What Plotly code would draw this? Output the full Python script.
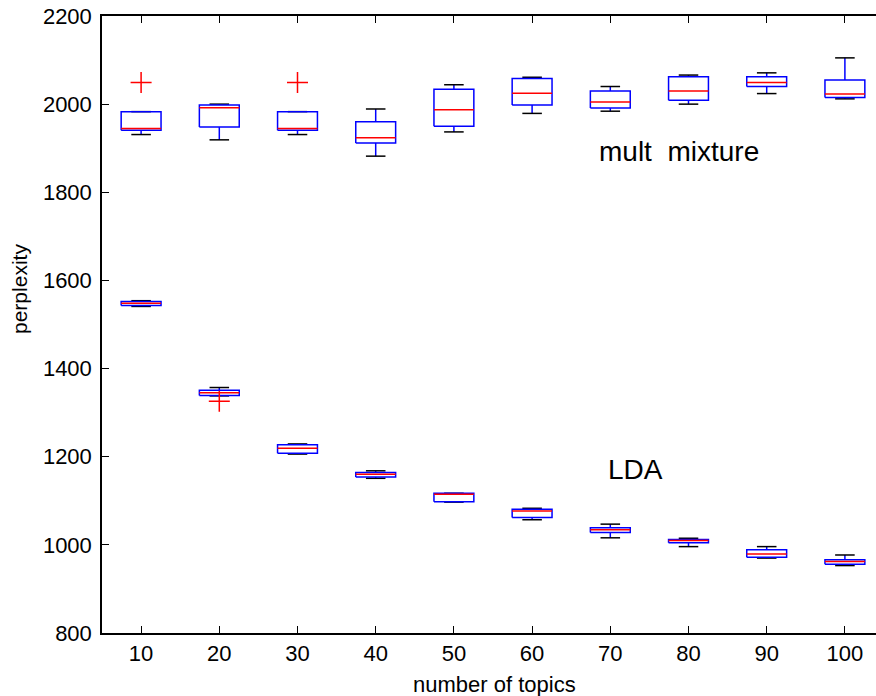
import plotly.graph_objects as go

# ---- data ----
topics = [10, 20, 30, 40, 50, 60, 70, 80, 90, 100]

mult_lower = [1931, 1919, 1931, 1882, 1937, 1979, 1984, 2000, 2024, 2012]
mult_q1 = [1941, 1948, 1941, 1912, 1950, 1998, 1991, 2009, 2040, 2015]
mult_med = [1945, 1992, 1945, 1924, 1987, 2025, 2005, 2030, 2049, 2023]
mult_q3 = [1983, 1998, 1983, 1960, 2034, 2058, 2030, 2062, 2062, 2055]
mult_upper = [1983, 2000, 1983, 1989, 2044, 2061, 2040, 2066, 2071, 2105]
mult_out_x = [10, 30]
mult_out_y = [2049, 2049]

lda_lower = [1541, 1338, 1206, 1151, 1097, 1057, 1016, 996, 970, 953]
lda_q1 = [1543, 1339, 1208, 1154, 1098, 1062, 1028, 1005, 972, 956]
lda_med = [1548, 1345, 1219, 1160, 1115, 1077, 1034, 1010, 979, 962]
lda_q3 = [1552, 1351, 1227, 1164, 1117, 1081, 1039, 1012, 989, 966]
lda_upper = [1554, 1357, 1229, 1168, 1117, 1083, 1047, 1015, 996, 977]
lda_out_x = [20]
lda_out_y = [1326]

yticks = [800, 1000, 1200, 1400, 1600, 1800, 2000, 2200]

BOX_HALF = 2.55
CAP_HALF = 1.25
FONT = "Liberation Sans, Arial, Helvetica, sans-serif"

groups = [
    (mult_lower, mult_q1, mult_med, mult_q3, mult_upper, mult_out_x, mult_out_y),
    (lda_lower, lda_q1, lda_med, lda_q3, lda_upper, lda_out_x, lda_out_y),
]

wx, wy, cx, cy, bx, by, mx, my = [], [], [], [], [], [], [], []
ox, oy = [], []
for lo, q1, med, q3, up, oxs, oys in groups:
    for x, a, b, m, c, d in zip(topics, lo, q1, med, q3, up):
        # whiskers
        wx += [x, x, None, x, x, None]
        wy += [c, d, None, b, a, None]
        # caps
        cx += [x - CAP_HALF, x + CAP_HALF, None, x - CAP_HALF, x + CAP_HALF, None]
        cy += [d, d, None, a, a, None]
        # box
        bx += [x - BOX_HALF, x + BOX_HALF, x + BOX_HALF, x - BOX_HALF, x - BOX_HALF, None]
        by += [b, b, c, c, b, None]
        # median
        mx += [x - BOX_HALF, x + BOX_HALF, None]
        my += [m, m, None]
    ox += oxs
    oy += oys

fig = go.Figure()
fig.add_trace(go.Scatter(x=wx, y=wy, mode="lines", line=dict(color="#0000ff", width=1.5),
                         hoverinfo="skip", showlegend=False))
fig.add_trace(go.Scatter(x=cx, y=cy, mode="lines", line=dict(color="black", width=1.5),
                         hoverinfo="skip", showlegend=False))
fig.add_trace(go.Scatter(x=bx, y=by, mode="lines", line=dict(color="#0000ff", width=1.5),
                         hoverinfo="skip", showlegend=False))
fig.add_trace(go.Scatter(x=mx, y=my, mode="lines", line=dict(color="#ff0000", width=1.5),
                         hoverinfo="skip", showlegend=False))
fig.add_trace(go.Scatter(x=ox, y=oy, mode="markers",
                         marker=dict(symbol="cross-thin", size=15,
                                     line=dict(color="#ff0000", width=1.5)),
                         hoverinfo="skip", showlegend=False))

fig.update_layout(
    width=876, height=696,
    margin=dict(l=102, r=0, t=16, b=63),
    paper_bgcolor="white", plot_bgcolor="white",
    font=dict(family=FONT, size=22, color="black"),
    xaxis=dict(range=[5, 5 + 774 / 7.82], tickvals=topics, ticktext=[str(t) for t in topics],
               ticks="inside", ticklen=7, tickwidth=1, tickcolor="black",
               showline=True, linecolor="black", linewidth=1.5, mirror="ticks",
               showgrid=False, zeroline=False),
    yaxis=dict(range=[800, 2200], tickvals=yticks, ticks="inside", ticklen=7, tickwidth=1,
               tickcolor="black", showline=True, linecolor="black", linewidth=1.5,
               showgrid=False, zeroline=False, ticklabelstandoff=4),
    annotations=[
        dict(text="mult  mixture", x=68.3, y=1893, xref="x", yref="y", xanchor="left",
             yanchor="middle", showarrow=False, font=dict(size=28)),
        dict(text="LDA", x=69.4, y=1171, xref="x", yref="y", xanchor="left",
             yanchor="middle", showarrow=False, font=dict(size=28)),
        dict(text="perplexity", x=(19 - 102) / 774, y=(633 - 289) / 617, xref="paper",
             yref="paper", xanchor="center", yanchor="middle", textangle=-90,
             showarrow=False, font=dict(size=21)),
        dict(text="number of topics", x=(494 - 102) / 774, y=-(684 - 633) / 617,
             xref="paper", yref="paper", xanchor="center", yanchor="middle",
             showarrow=False, font=dict(size=22)),
    ],
)

fig.write_html("out.html")
